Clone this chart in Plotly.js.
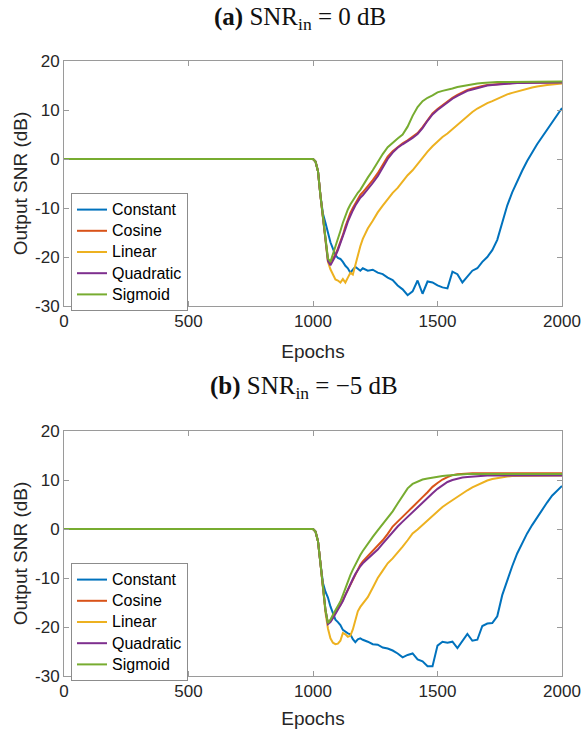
<!DOCTYPE html>
<html>
<head>
<meta charset="utf-8">
<script src="https://cdn.plot.ly/plotly-3.0.1.min.js"></script>
<style>html,body{margin:0;padding:0;background:#fff;}#chart{width:583px;height:729px;}</style>
</head>
<body>
<div id="chart"></div>
<script>
// Epoch grid shared by all series
const epochs = [0, 1000, 1010, 1020, 1030, 1040, 1050, 1060, 1070, 1080, 1090, 1100, 1110, 1120, 1130, 1140, 1150, 1160, 1170, 1180, 1190, 1200,
  1220, 1240, 1260, 1280, 1300, 1320, 1340, 1360, 1380, 1400, 1420, 1440, 1460, 1480, 1500, 1520, 1540, 1560, 1580, 1600,
  1620, 1640, 1660, 1680, 1700, 1720, 1740, 1760, 1780, 1800, 1820, 1840, 1860, 1880, 1900, 1920, 1940, 1960, 1980, 2000];

const seriesNames = ["Constant", "Cosine", "Linear", "Quadratic", "Sigmoid"];
const seriesColors = ["#0072BD", "#D95319", "#EDB120", "#7E2F8E", "#77AC30"];

// (a) SNR_in = 0 dB
const constantA = [0, 0, -0.5, -2.5, -7.5, -11.2, -13.0, -15.0, -17.0, -18.3, -19.6, -20.2, -20.4, -21.0, -21.8, -22.3, -23.2, -22.6, -22.0, -22.4, -22.8, -22.3,
  -22.8, -22.6, -23.2, -23.5, -24.2, -24.7, -25.8, -26.6, -27.8, -27.0, -24.8, -27.5, -25.0, -25.2, -25.8, -26.2, -26.4, -23.0, -23.5, -25.2,
  -24.0, -22.8, -22.3, -21.0, -20.0, -18.6, -16.5, -13.0, -9.5, -6.8, -4.5, -2.4, -0.4, 1.4, 3.0, 4.5, 6.0, 7.5, 8.9, 10.4];
const cosineA = [0, 0, -0.5, -2.5, -7.5, -12.0, -17.0, -20.5, -21.3, -20.5, -19.5, -18.3, -17.0, -15.5, -13.8, -12.3, -11.0, -10.0, -9.0, -8.0, -7.3, -6.8,
  -5.6, -4.3, -2.9, -1.2, 0.5, 1.6, 2.5, 3.2, 3.8, 4.5, 5.3, 6.5, 8.0, 9.3, 10.2, 11.0, 11.8, 12.5, 13.1, 13.6,
  14.1, 14.4, 14.7, 14.9, 15.1, 15.2, 15.3, 15.4, 15.5, 15.5, 15.5, 15.6, 15.6, 15.6, 15.6, 15.6, 15.6, 15.6, 15.6, 15.6];
const linearA = [0, 0, -0.5, -2.5, -7.5, -12.0, -17.0, -21.0, -22.5, -23.5, -24.6, -24.8, -25.2, -24.5, -25.2, -24.2, -23.2, -23.6, -21.5, -19.5, -17.8, -16.3,
  -14.2, -12.6, -10.9, -9.5, -8.1, -6.9, -5.9, -4.6, -3.3, -2.3, -1.0, 0.3, 1.5, 2.6, 3.6, 4.5, 5.2, 6.1, 7.0, 7.9,
  8.7, 9.6, 10.3, 10.9, 11.4, 11.8, 12.3, 12.8, 13.2, 13.5, 13.8, 14.1, 14.4, 14.6, 14.8, 15.0, 15.1, 15.2, 15.3, 15.4];
const quadraticA = [0, 0, -0.5, -2.5, -7.5, -12.0, -17.0, -20.8, -21.7, -20.8, -19.8, -18.6, -17.3, -15.9, -14.3, -12.8, -11.5, -10.5, -9.5, -8.6, -7.9, -7.4,
  -6.2, -4.9, -3.5, -1.8, 0.0, 1.3, 2.3, 3.0, 3.6, 4.3, 5.1, 6.3, 7.8, 9.1, 10.0, 10.8, 11.6, 12.3, 12.9, 13.4,
  13.9, 14.2, 14.5, 14.8, 15.0, 15.1, 15.2, 15.3, 15.4, 15.5, 15.5, 15.5, 15.5, 15.6, 15.6, 15.6, 15.6, 15.6, 15.6, 15.6];
const sigmoidA = [0, 0, -0.5, -2.5, -7.5, -12.0, -17.0, -20.3, -21.0, -19.5, -17.8, -16.2, -14.7, -13.0, -11.5, -10.3, -9.3, -8.4, -7.6, -6.9, -6.3, -5.4,
  -3.8, -2.3, -0.6, 1.0, 2.4, 3.4, 4.2, 5.0, 6.6, 8.8, 10.6, 11.8, 12.5, 13.0, 13.6, 13.9, 14.1, 14.4, 14.7, 14.9,
  15.1, 15.3, 15.4, 15.5, 15.6, 15.6, 15.7, 15.7, 15.7, 15.7, 15.8, 15.8, 15.8, 15.8, 15.8, 15.8, 15.8, 15.8, 15.8, 15.8];

// (b) SNR_in = -5 dB
const constantB = [0, 0, -0.5, -2.5, -7.0, -11.0, -12.8, -14.0, -15.8, -17.3, -18.5, -19.0, -19.6, -20.6, -21.0, -21.3, -21.5, -22.5, -23.1, -22.5, -22.3, -22.6,
  -23.0, -23.5, -23.6, -24.2, -24.4, -24.8, -25.4, -26.2, -25.7, -25.4, -26.6, -27.0, -28.0, -28.0, -23.8, -23.0, -23.2, -23.0, -24.3, -22.8,
  -21.4, -22.8, -22.6, -19.8, -19.3, -19.2, -17.8, -13.5, -10.3, -7.6, -5.0, -2.8, -0.9, 0.8, 2.4, 3.9, 5.4, 6.8, 7.9, 8.8];
const cosineB = [0, 0, -0.5, -2.5, -7.0, -12.0, -16.5, -19.2, -18.8, -18.0, -17.0, -16.2, -15.5, -14.5, -13.3, -12.2, -11.3, -10.3, -9.2, -8.2, -7.3, -6.6,
  -5.5, -4.6, -3.4, -2.3, -1.0, 0.5, 1.5, 2.6, 3.5, 4.5, 5.6, 6.5, 7.5, 8.6, 9.4, 10.1, 10.6, 11.0, 11.2, 11.3,
  11.4, 11.4, 11.4, 11.4, 11.4, 11.4, 11.4, 11.4, 11.4, 11.4, 11.4, 11.4, 11.4, 11.4, 11.4, 11.4, 11.4, 11.4, 11.4, 11.4];
const linearB = [0, 0, -0.5, -2.5, -7.0, -12.0, -17.0, -20.3, -22.3, -23.2, -23.5, -23.4, -22.8, -21.2, -21.5, -22.0, -21.8, -20.5, -18.5, -16.8, -15.9, -15.2,
  -13.9, -12.0, -10.0, -8.5, -7.0, -6.0, -4.9, -3.6, -2.3, -0.9, -0.1, 0.8, 1.9, 2.8, 3.7, 4.5, 5.2, 5.9, 6.6, 7.3,
  7.9, 8.5, 9.0, 9.5, 9.9, 10.2, 10.4, 10.6, 10.7, 10.8, 10.8, 10.9, 10.9, 10.9, 10.9, 10.9, 10.9, 10.9, 10.9, 10.9];
const quadraticB = [0, 0, -0.5, -2.5, -7.0, -12.0, -16.5, -19.4, -19.0, -18.2, -17.3, -16.5, -15.7, -14.7, -13.5, -12.3, -11.2, -10.2, -9.2, -8.3, -7.6, -7.0,
  -6.1, -5.3, -4.2, -3.0, -1.8, -0.6, 0.5, 1.5, 2.5, 3.4, 4.4, 5.3, 6.3, 7.3, 8.2, 8.9, 9.6, 10.0, 10.3, 10.5,
  10.6, 10.7, 10.8, 10.8, 10.9, 10.9, 10.9, 10.9, 10.9, 10.9, 10.9, 10.9, 10.9, 10.9, 10.9, 10.9, 10.9, 10.9, 10.9, 10.9];
const sigmoidB = [0, 0, -0.5, -2.5, -7.0, -12.0, -16.5, -19.2, -18.5, -17.5, -16.6, -15.8, -14.8, -13.5, -12.0, -10.6, -9.4, -8.3, -7.2, -6.2, -5.3, -4.5,
  -3.0, -1.6, -0.3, 1.0, 2.2, 3.6, 5.2, 6.8, 8.3, 9.2, 9.7, 10.1, 10.3, 10.5, 10.6, 10.8, 10.9, 11.0, 11.1, 11.1,
  11.2, 11.2, 11.2, 11.2, 11.2, 11.2, 11.2, 11.2, 11.2, 11.2, 11.2, 11.2, 11.2, 11.2, 11.2, 11.2, 11.2, 11.2, 11.2, 11.2];

const xTicks = [0, 500, 1000, 1500, 2000];
const yTicks = [-30, -20, -10, 0, 10, 20];
const titleA = "<b>(a)</b> SNR<sub>in</sub> = 0 dB";
const titleB = "<b>(b)</b> SNR<sub>in</sub> = \u22125 dB";
const xLabel = "Epochs";
const yLabel = "Output SNR (dB)";

const dataA = [constantA, cosineA, linearA, quadraticA, sigmoidA];
const dataB = [constantB, cosineB, linearB, quadraticB, sigmoidB];

const W = 583, H = 729;
const legendLabel = n => '<span style="font-size:16px">' + n + '</span>';
const traces = [];
dataA.forEach((ys, i) => traces.push({
  x: epochs, y: ys, type: "scatter", mode: "lines", name: legendLabel(seriesNames[i]),
  line: {color: seriesColors[i], width: 2}, xaxis: "x", yaxis: "y", legend: "legend"
}));
dataB.forEach((ys, i) => traces.push({
  x: epochs, y: ys, type: "scatter", mode: "lines", name: legendLabel(seriesNames[i]),
  line: {color: seriesColors[i], width: 2}, xaxis: "x2", yaxis: "y2", legend: "legend2"
}));

const axisColor = "#9a9a9a";
const textColor = "#262626";
const sans = "Liberation Sans, Arial, sans-serif";
const serif = "Liberation Serif, Times New Roman, serif";

function xAx(anchor) {
  return {
    domain: [64 / W, 562 / W], range: [0, 2000], anchor: anchor,
    tickvals: xTicks, ticktext: xTicks.map(String),
    ticks: "inside", ticklen: 5, tickcolor: axisColor, mirror: "ticks",
    showline: true, linecolor: axisColor, linewidth: 1, showgrid: false, zeroline: false,
    tickfont: {family: sans, size: 17, color: textColor},
    title: {text: xLabel, font: {family: sans, size: 19, color: textColor}, standoff: 14},
    automargin: false, fixedrange: true
  };
}
function yAx(anchor, top, bottom) {
  return {
    domain: [1 - bottom / H, 1 - top / H], range: [-30, 20], anchor: anchor,
    tickvals: yTicks, ticktext: yTicks.map(String),
    ticks: "inside", ticklen: 5, tickcolor: axisColor, mirror: "ticks",
    showline: true, linecolor: axisColor, linewidth: 1, showgrid: false, zeroline: false,
    tickfont: {family: sans, size: 17, color: textColor},
    title: {text: yLabel, font: {family: sans, size: 19, color: textColor}, standoff: 2},
    automargin: false, fixedrange: true
  };
}
function legendAt(top) {
  return {
    x: 71 / W, xanchor: "left", y: 1 - top / H, yanchor: "top",
    bgcolor: "#ffffff", bordercolor: "#8c8c8c", borderwidth: 1,
    font: {family: sans, size: 14, color: "#000"}, tracegroupgap: 0, itemwidth: 30
  };
}

const layout = {
  width: W, height: H,
  margin: {l: 0, r: 0, t: 0, b: 0},
  paper_bgcolor: "#ffffff", plot_bgcolor: "#ffffff",
  showlegend: true,
  xaxis: xAx("y"), yaxis: yAx("x", 61, 306),
  xaxis2: xAx("y2"), yaxis2: yAx("x2", 431, 676),
  legend: legendAt(193), legend2: legendAt(563),
  annotations: [
    {text: titleA, x: 300 / W, y: 1 - 18 / H, xref: "paper", yref: "paper", xanchor: "center", yanchor: "middle",
     showarrow: false, font: {family: serif, size: 25, color: "#111"}},
    {text: titleB, x: 304 / W, y: 1 - 387 / H, xref: "paper", yref: "paper", xanchor: "center", yanchor: "middle",
     showarrow: false, font: {family: serif, size: 25, color: "#111"}}
  ]
};

Plotly.newPlot("chart", traces, layout, {displayModeBar: false, staticPlot: true});
</script>
</body>
</html>
